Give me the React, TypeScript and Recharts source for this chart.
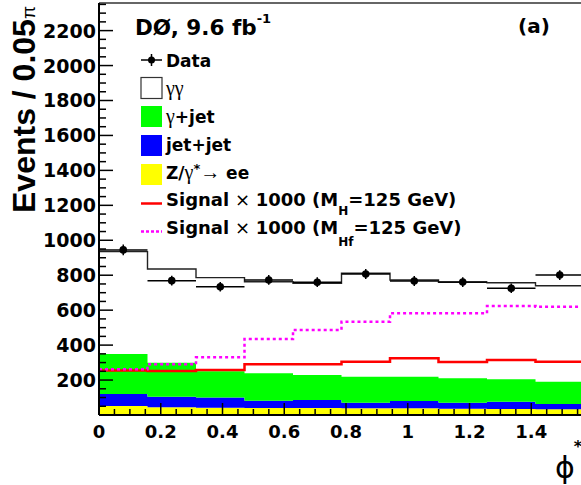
import {
  ComposedChart, Area, Line, Scatter, ErrorBar, XAxis, YAxis, ReferenceLine,
} from "recharts";

// 10 bins of 0.05*pi in phi*
const BIN_W = 0.05 * Math.PI;
const BIN_EDGES = Array.from({ length: 11 }, (_, i) => i * BIN_W);

// stacked backgrounds, bottom to top
const ZEE = [52, 45, 42, 40, 40, 38, 38, 36, 35, 33];
const JETJET = [68, 60, 58, 42, 46, 32, 42, 34, 41, 30];
const GAMMAJET = [229, 194, 150, 157, 143, 149, 139, 140, 128, 128];
const DIPHOTON = [586, 537, 536, 524, 525, 592, 554, 550, 553, 549];

// signals x 1000
const SIGNAL = [254, 252, 258, 290, 290, 305, 325, 303, 315, 305];
const SIGNAL_HF = [262, 290, 330, 435, 487, 534, 582, 582, 624, 620];

// data
const DATA = [945, 769, 734, 773, 760, 807, 767, 761, 725, 801];
const DATA_ERR = [31, 28, 27, 28, 28, 28, 28, 28, 27, 28];

const X_LABELS = [0, 0.2, 0.4, 0.6, 0.8, 1, 1.2, 1.4];
const X_TICKS = Array.from({ length: 32 }, (_, i) => Math.round(i * 5) / 100);
const Y_LABELS = [200, 400, 600, 800, 1000, 1200, 1400, 1600, 1800, 2000, 2200];
const Y_TICKS = Array.from({ length: 48 }, (_, i) => i * 50);
const Y_MAX = 2358;

const edgeRows = BIN_EDGES.map((x, i) => {
  const b = Math.min(i, 9);
  return {
    x,
    zee: ZEE[b], jj: JETJET[b], gj: GAMMAJET[b], gg: DIPHOTON[b],
    sig: SIGNAL[b], sigHf: SIGNAL_HF[b],
  };
});

const dataPts = DATA.map((y, i) => ({
  x: BIN_EDGES[i] + BIN_W / 2, y, ex: BIN_W / 2, ey: DATA_ERR[i],
}));

const BOLD = "'DejaVu Sans', sans-serif";
const SERIF = "'Liberation Serif', serif";
const MARGIN = { top: 3, right: 16, bottom: 0, left: 0 };

function XTick(props: any) {
  const { x, y, payload } = props;
  const v = payload.value;
  const major = X_LABELS.some(l => Math.abs(l - v) < 1e-6);
  return (
    <g>
      <line x1={x} x2={x} y1={y} y2={y - (major ? 12 : 6)} stroke="#000" strokeWidth={1.5} />
      {major && (
        <text x={x} y={y + 23} textAnchor="middle" fontFamily={BOLD} fontWeight="bold" fontSize={18} fill="#000">
          {String(v)}
        </text>
      )}
    </g>
  );
}

function YTick(props: any) {
  const { x, y, payload } = props;
  const v = payload.value;
  const major = v % 200 === 0;
  return (
    <g>
      <line x1={x} x2={x + (major ? 14 : 7)} y1={y} y2={y} stroke="#000" strokeWidth={1.5} />
      {major && Y_LABELS.includes(v) && (
        <text x={x - 3} y={y + 7} textAnchor="end" fontFamily={BOLD} fontWeight="bold" fontSize={19} fill="#000">
          {v}
        </text>
      )}
    </g>
  );
}

function Overlay() {
  const lx = 141, tx = 166;
  const rows = [60, 88, 116, 144, 172, 199, 227];
  const t = (y: number) => y + 6.5;
  return (
    <svg width={581} height={485} style={{ position: "absolute", left: 0, top: 0, pointerEvents: "none" }}>
      <text transform="translate(35,213) rotate(-90)" fontFamily="'Liberation Sans', Arial, sans-serif" fontWeight="bold" fontSize={32} fill="#000">
        Events / 0.05<tspan fontWeight="normal" fontSize={19}>π</tspan>
      </text>
      <text x={565} y={478} textAnchor="middle" fontFamily={BOLD} fontSize={30} fill="#000">ϕ</text>
      <text x={578} y={452} textAnchor="middle" fontFamily={BOLD} fontWeight="bold" fontSize={16} fill="#000">*</text>

      <text x={135} y={35} fontFamily={BOLD} fontWeight="bold" fontSize={21.5} fill="#000">
        DØ, 9.6 fb<tspan fontSize={13} dy={-12}>-1</tspan>
      </text>
      <text x={518} y={33} fontFamily={BOLD} fontWeight="bold" fontSize={20} fill="#000">(a)</text>

      <g fontFamily={BOLD} fontWeight="bold" fontSize={17} fill="#000">
        {/* Data */}
        <line x1={lx} x2={lx + 21} y1={rows[0]} y2={rows[0]} stroke="#000" strokeWidth={1.5} />
        <line x1={lx + 10.5} x2={lx + 10.5} y1={rows[0] - 6} y2={rows[0] + 6} stroke="#000" strokeWidth={1.5} />
        <circle cx={lx + 10.5} cy={rows[0]} r={3.5} fill="#000" />
        <text x={tx} y={t(rows[0])}>Data</text>

        <rect x={lx} y={rows[1] - 10.5} width={21} height={21} fill="#fff" stroke="#333" strokeWidth={1.2} />
        <text x={tx} y={t(rows[1])} fontWeight="normal" fontFamily={SERIF} fontSize={20}>γγ</text>

        <rect x={lx} y={rows[2] - 10} width={21} height={21} fill="#00ff00" />
        <text x={tx} y={t(rows[2])}>
          <tspan fontWeight="normal" fontFamily={SERIF} fontSize={20}>γ</tspan>+jet
        </text>

        <rect x={lx} y={rows[3] - 9} width={21} height={21} fill="#0000ff" />
        <text x={tx} y={t(rows[3])}>jet+jet</text>

        <rect x={lx} y={rows[4] - 8} width={21} height={21} fill="#ffff00" />
        <text x={tx} y={t(rows[4])}>
          Z/<tspan fontWeight="normal" fontFamily={SERIF} fontSize={20}>γ</tspan>
          <tspan dy={-6} fontSize={13}>*</tspan>
          <tspan dy={6} fontWeight="normal" fontFamily={SERIF} fontSize={20}>→</tspan> ee
        </text>

        <line x1={lx} x2={lx + 21} y1={rows[5] + 4.5} y2={rows[5] + 4.5} stroke="#ff0000" strokeWidth={2.5} />
        <text x={tx} y={t(rows[5])} fontSize={18}>
          Signal<tspan fontWeight="normal"> × </tspan>1000 (M
          <tspan fontSize={12} dy={9}>H</tspan>
          <tspan dy={-9}>=125 GeV)</tspan>
        </text>

        <line x1={lx} x2={lx + 21} y1={rows[6] + 4.5} y2={rows[6] + 4.5} stroke="#ff00ff" strokeWidth={2.5} strokeDasharray="3 2" />
        <text x={tx} y={t(rows[6])} fontSize={18}>
          Signal<tspan fontWeight="normal"> × </tspan>1000 (M
          <tspan fontSize={12} dy={12}>Hf</tspan>
          <tspan dy={-12}>=125 GeV)</tspan>
        </text>
      </g>
    </svg>
  );
}

function Axes({ show }: { show: boolean }) {
  return [
    <XAxis key="x" type="number" dataKey="x" domain={[0, Math.PI / 2]} allowDataOverflow ticks={X_TICKS}
      interval={0} tickSize={0} tickMargin={0} tickLine={false} height={70}
      axisLine={show ? { stroke: "#000", strokeWidth: 2 } : false} tick={show ? <XTick /> : false} />,
    <YAxis key="y" type="number" domain={[0, Y_MAX]} allowDataOverflow ticks={Y_TICKS} interval={0}
      tickSize={0} tickMargin={0} tickLine={false} width={99}
      axisLine={show ? { stroke: "#000", strokeWidth: 2 } : false} tick={show ? <YTick /> : false} />,
  ];
}

export default function App() {
  return (
    <div style={{ position: "absolute", left: 0, top: 0, width: 581, height: 485, overflow: "hidden", background: "#fff" }}>
      <div style={{ position: "absolute", left: 0, top: 0 }}>
        <ComposedChart width={600} height={485} data={edgeRows} margin={MARGIN}>
          <Area type="stepAfter" dataKey="zee" stackId="bg" stroke="none" fill="#ffff00" fillOpacity={1} isAnimationActive={false} />
          <Area type="stepAfter" dataKey="jj" stackId="bg" stroke="none" fill="#0000ff" fillOpacity={1} isAnimationActive={false} />
          <Area type="stepAfter" dataKey="gj" stackId="bg" stroke="none" fill="#00ff00" fillOpacity={1} isAnimationActive={false} />
          <Area type="stepAfter" dataKey="gg" stackId="bg" stroke="#222" strokeWidth={1.4} fill="#fff" fillOpacity={0} isAnimationActive={false} />
          <Line type="stepAfter" dataKey="sig" stroke="#ff0000" strokeWidth={2.5} dot={false} isAnimationActive={false} />
          <Line type="stepAfter" dataKey="sigHf" stroke="#ff00ff" strokeWidth={2.5} strokeDasharray="3 3" dot={false} isAnimationActive={false} />
          <Scatter data={dataPts} dataKey="y" fill="#000" isAnimationActive={false}
            shape={(p: any) => <circle cx={p.cx} cy={p.cy} r={3.8} fill="#000" />}>
            <ErrorBar dataKey="ex" direction="x" width={0} stroke="#000" strokeWidth={1.5} />
            <ErrorBar dataKey="ey" direction="y" width={0} stroke="#000" strokeWidth={1.5} />
          </Scatter>
          {Axes({ show: false })}
        </ComposedChart>
      </div>
      {/* axes and frame drawn on top so the ticks show over the filled histograms */}
      <div style={{ position: "absolute", left: 0, top: 0 }}>
        <ComposedChart width={600} height={485} data={edgeRows} margin={MARGIN}>
          <ReferenceLine y={Y_MAX} stroke="#333" strokeWidth={1.5} />
          {Axes({ show: true })}
        </ComposedChart>
      </div>
      <Overlay />
    </div>
  );
}
